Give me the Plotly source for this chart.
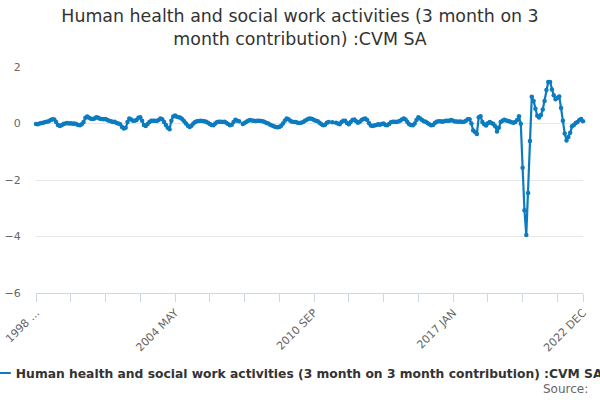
import plotly.graph_objects as go

TITLE = "Human health and social work activities (3 month on 3<br>month contribution) :CVM SA"
SERIES_NAME = "Human health and social work activities (3 month on 3 month contribution) :CVM SA"
LINE_COLOR = "#0c7bc0"
FONT = "DejaVu Sans"

MONTHS = ["JAN", "FEB", "MAR", "APR", "MAY", "JUN", "JUL", "AUG", "SEP", "OCT", "NOV", "DEC"]
YEARS = list(range(1998, 2023))
periods = [f"{y} {m}" for y in YEARS for m in MONTHS]

# values, one row per year (None = missing month)
v1998 = [-0.02, -0.03, 0.0, 0.02, 0.03, 0.05, 0.06, 0.08, 0.12, 0.15, 0.14, 0.05]
v1999 = [-0.05, -0.09, -0.06, -0.02, 0.0, 0.02, 0.0, 0.01, -0.01, 0.0, -0.02, -0.05]
v2000 = [-0.06, -0.03, 0.05, 0.2, 0.25, 0.2, 0.17, 0.16, 0.18, 0.22, 0.2, 0.17]
v2001 = [0.16, 0.15, 0.16, 0.12, 0.1, 0.08, 0.05, 0.06, 0.02, 0.0, -0.03, -0.12]
v2002 = [-0.18, -0.15, 0.05, 0.18, 0.14, 0.1, 0.1, 0.12, 0.2, 0.22, 0.1, -0.05]
v2003 = [-0.09, -0.02, 0.05, 0.1, 0.1, 0.1, 0.09, 0.12, 0.18, 0.15, 0.05, -0.05]
v2004 = [-0.15, -0.2, 0.1, 0.25, 0.28, 0.24, 0.22, 0.2, 0.15, 0.08, 0.0, -0.08]
v2005 = [-0.12, -0.08, 0.0, 0.05, 0.08, 0.09, 0.1, 0.09, 0.08, 0.06, 0.03, -0.02]
v2006 = [-0.05, -0.06, 0.0, 0.05, 0.06, 0.06, 0.05, 0.06, 0.03, -0.02, -0.06, -0.04]
v2007 = [0.05, 0.13, 0.1, 0.08, None, -0.02, 0.02, 0.06, 0.1, 0.12, 0.11, 0.1]
v2008 = [0.09, 0.1, 0.1, 0.09, 0.08, 0.05, 0.02, 0.0, -0.04, -0.07, -0.1, -0.12]
v2009 = [-0.13, -0.12, -0.08, 0.0, 0.1, 0.18, 0.15, 0.1, 0.06, 0.05, 0.05, 0.03]
v2010 = [0.02, 0.03, 0.05, 0.1, 0.13, 0.17, 0.18, 0.16, 0.12, 0.1, 0.08, 0.03]
v2011 = [-0.03, -0.06, -0.04, 0.03, 0.05, None, 0.04, None, 0.03, 0.0, -0.03, 0.05]
v2012 = [0.1, 0.1, 0.02, -0.03, 0.05, 0.12, 0.14, 0.08, 0.03, 0.06, 0.12, 0.16]
v2013 = [0.18, 0.12, 0.02, -0.07, -0.09, -0.07, -0.05, -0.03, -0.04, -0.02, 0.0, -0.05]
v2014 = [-0.06, -0.02, 0.04, 0.06, 0.06, 0.05, 0.07, 0.1, 0.14, 0.18, 0.14, 0.05]
v2015 = [-0.03, -0.05, -0.06, 0.0, 0.12, 0.22, 0.18, 0.12, 0.08, 0.06, 0.02, -0.03]
v2016 = [-0.06, -0.05, 0.02, 0.06, 0.08, 0.08, 0.06, 0.08, 0.1, 0.1, 0.1, 0.12]
v2017 = [0.1, 0.07, 0.07, 0.06, 0.07, 0.05, 0.06, 0.1, 0.15, 0.15, 0.0, -0.25]
v2018 = [-0.3, -0.37, 0.22, 0.26, 0.05, -0.03, -0.07, 0.01, 0.05, 0.02, -0.02, -0.1]
v2019 = [-0.28, -0.15, 0.05, 0.1, 0.13, 0.11, 0.09, 0.07, 0.04, 0.03, 0.05, 0.12]
v2020 = [0.26, -0.01, -1.57, -3.07, -3.95, -2.46, -0.62, 0.95, 0.8, 0.52, 0.27, 0.21]
v2021 = [0.3, 0.5, 0.8, 1.19, 1.47, 1.47, 1.2, 1.0, 0.86, 0.91, 0.96, 0.55]
v2022 = [0.1, -0.35, -0.6, -0.48, -0.33, -0.1, -0.05, 0.02, 0.05, 0.12, 0.16, 0.08]

values = (v1998 + v1999 + v2000 + v2001 + v2002 + v2003 + v2004 + v2005 + v2006
          + v2007 + v2008 + v2009 + v2010 + v2011 + v2012 + v2013 + v2014 + v2015
          + v2016 + v2017 + v2018 + v2019 + v2020 + v2021 + v2022)

y_ticks = [-6, -4, -2, 0, 2]
tick_idx = list(range(0, len(periods), 19)) + [len(periods) - 1]
label_text = {0: "1998 ...", 76: "2004 MAY", 152: "2010 SEP", 228: "2017 JAN", 299: "2022 DEC"}

fig = go.Figure()
fig.add_trace(go.Scatter(
    x=periods, y=values, name=SERIES_NAME,
    mode="lines+markers",
    line=dict(color=LINE_COLOR, width=2.2),
    marker=dict(color=LINE_COLOR, size=4.5),
    connectgaps=False,
    cliponaxis=False,
))

fig.update_layout(
    width=600, height=400,
    margin=dict(l=36, r=17, t=67, b=107, autoexpand=False),
    paper_bgcolor="white", plot_bgcolor="white",
    font=dict(family=FONT, color="#666666", size=11),
    title=dict(text=TITLE, x=0.5, xanchor="center", y=0.945, yanchor="top",
               font=dict(family=FONT, size=17.4, color="#333333")),
    showlegend=True,
    legend=dict(orientation="h", x=-0.11, xanchor="left", y=-0.354, yanchor="middle",
                font=dict(family=FONT, size=12.3, color="#333333", weight="bold"),
                bgcolor="rgba(0,0,0,0)"),
)

fig.update_xaxes(
    type="category",
    range=[0, len(periods) - 1],
    tickmode="array",
    tickvals=[periods[i] for i in tick_idx],
    ticktext=[label_text.get(i, "") for i in tick_idx],
    tickangle=-45,
    ticks="outside", ticklen=8, tickcolor="#ccd6eb",
    showline=True, linecolor="#ccd6eb", linewidth=1,
    showgrid=False, zeroline=False,
    tickfont=dict(family=FONT, size=11, color="#666666"),
)

fig.update_yaxes(
    range=[-6, 2],
    tickmode="array", tickvals=y_ticks,
    ticks="outside", ticklen=12, tickcolor="rgba(0,0,0,0)",
    showgrid=True, gridcolor="#e6e6e6", gridwidth=1,
    zeroline=False, showline=False,
    tickfont=dict(family=FONT, size=11, color="#666666"),
)

fig.add_annotation(text="Source:", xref="paper", yref="paper", x=1.013, y=-0.425,
                   xanchor="right", yanchor="middle", showarrow=False,
                   font=dict(family=FONT, size=12, color="#666666"))

# the page's default body margin would push the figure 8px off the corner
fig.write_html("out.html", config={"displayModeBar": False},
               post_script="document.body.style.margin='0';")
